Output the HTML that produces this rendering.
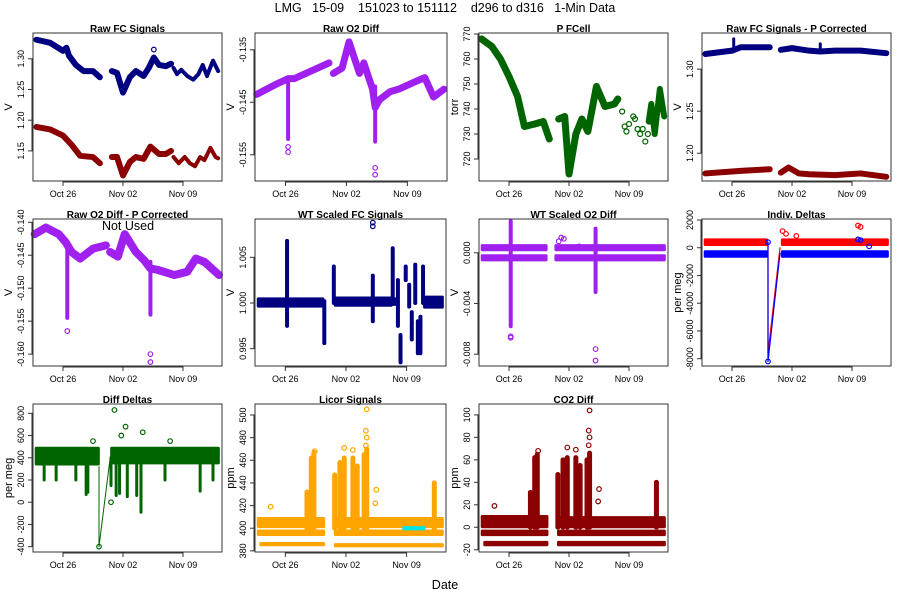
<!DOCTYPE html>
<html><head><meta charset="utf-8"><style>
html,body{margin:0;padding:0;background:#fff;}
svg{display:block;font-family:"Liberation Sans",sans-serif;}
</style></head><body>
<svg id="c" width="900" height="600" viewBox="0 0 900 600">
<text x="445" y="12" text-anchor="middle" font-size="12.5" xml:space="preserve">LMG   15-09    151023 to 151112    d296 to d316   1-Min Data</text>
<text x="445" y="589" text-anchor="middle" font-size="12.5">Date</text>
</svg>
<script>
// x tick data (days since Oct 26)
const xTickDays = [0, 7, 14];
const xTickLabels = ["Oct 26", "Nov 02", "Nov 09"];

// Panel 1: Raw FC Signals
const rawFcBlue1 = [[-3.1,1.331],[-1.5,1.326],[0,1.313],[0.4,1.318],[0.7,1.305],[1.5,1.29],[2.4,1.28],[3.5,1.28],[3.9,1.275],[4.3,1.27]];
const rawFcBlue2 = [[5.7,1.28],[6.3,1.277],[7.0,1.245],[7.8,1.27],[8.5,1.28],[9.4,1.272],[10.0,1.285],[10.6,1.302],[11.2,1.29],[12.0,1.288],[12.6,1.292]];
const rawFcBlue3 = [[12.9,1.285],[13.3,1.275],[13.8,1.282],[14.5,1.272],[15.2,1.266],[15.8,1.275],[16.3,1.29],[16.8,1.272],[17.5,1.297],[18.1,1.28]];
const rawFcRed1 = [[-3.1,1.189],[-1.5,1.185],[0,1.175],[1,1.16],[2,1.142],[3.5,1.14],[4.3,1.13]];
const rawFcRed2 = [[5.7,1.14],[6.3,1.14],[7.0,1.11],[7.8,1.132],[8.5,1.14],[9.4,1.137],[10.2,1.157],[11.2,1.145],[12.0,1.145],[12.6,1.15]];
const rawFcRed3 = [[12.9,1.14],[13.5,1.13],[14.2,1.14],[14.8,1.13],[15.4,1.125],[16.0,1.14],[16.5,1.135],[17.2,1.155],[17.8,1.14],[18.1,1.138]];
const rawFcOutliers = [[10.6,1.315]];

// Panel 2: Raw O2 Diff
const rawO2Seg1 = [[-3.3,-0.1435],[-1,-0.1415],[0.3,-0.1405],[1,-0.1405],[3,-0.139],[5,-0.1375]];
const rawO2Seg2 = [[5.5,-0.1395],[6.5,-0.1385],[7.3,-0.1335],[8.5,-0.1395],[9,-0.1375],[10,-0.1425],[10.3,-0.146],[10.8,-0.1445],[12,-0.143],[13,-0.1425],[15,-0.141],[16,-0.1403],[17,-0.144],[18.2,-0.1425]];
const rawO2Spikes = [[0.3,-0.152,-0.141],[10.3,-0.1525,-0.142]];
const rawO2Outliers = [[0.3,-0.1545],[0.3,-0.1535],[10.3,-0.1575],[10.3,-0.1588]];

// Panel 3: P FCell
const pCellSeg1 = [[-3.2,768],[-2,765],[-1,760],[0,753],[1,745],[1.8,733],[3,734],[4,735],[4.7,728]];
const pCellSeg2 = [[5.8,736],[6.5,737],[7.0,714],[7.8,730],[8.5,736],[9.2,731],[10.2,749],[11.2,741],[12.3,742],[12.7,744]];
const pCellSeg3 = [[16.3,735],[16.6,742],[17.0,730],[17.6,748],[18.1,737]];
const pCellPoints = [[13.2,739],[13.5,733],[13.7,731],[14,734],[14.5,737],[14.7,736],[15,732],[15.3,730],[15.6,732],[15.9,727],[16.2,730],[16.4,735]];

// Panel 4: Raw FC Signals - P Corrected
const pcBlue1 = [[-3.1,1.318],[0,1.322],[1,1.326],[4.4,1.326]];
const pcBlue2 = [[5.7,1.323],[7,1.325],[9,1.322],[10.3,1.321],[12,1.322],[15,1.322],[18,1.319]];
const pcBlueSpikes = [[0.2,1.322,1.336],[10.3,1.32,1.33]];
const pcRed1 = [[-3.1,1.176],[1,1.179],[4.4,1.181]];
const pcRed2 = [[5.7,1.177],[6.6,1.183],[7.8,1.176],[9,1.175],[12,1.174],[15,1.176],[18,1.172]];

// Panel 5: Raw O2 Diff - P Corrected
const o2pcSeg1 = [[-3.3,-0.1418],[-2,-0.1408],[-0.5,-0.1418],[0.3,-0.143],[1,-0.1445],[2,-0.1455],[3.5,-0.1440],[5,-0.1435]];
const o2pcSeg2 = [[5.5,-0.1445],[6.4,-0.1452],[7.2,-0.1418],[8.5,-0.1445],[9.5,-0.1458],[10.2,-0.147],[11,-0.1472],[13,-0.148],[14.5,-0.1475],[15.5,-0.1455],[16.5,-0.146],[18.2,-0.148]];
const o2pcSpikes = [[0.5,-0.1545,-0.1440],[10.2,-0.1540,-0.1460]];
const o2pcOutliers = [[0.5,-0.1565],[10.2,-0.1600],[10.2,-0.1612]];

// Panel 6: WT Scaled FC Signals
const wtFcBands = [[-3.3,4.5,0.9996,1.0005],[5.6,12.4,0.9997,1.0006],[12.4,13.0,0.9998,1.0005],[15.9,18.3,0.9995,1.0007]];
const wtFcSpikes = [[0.2,0.9975,1.0068],[4.5,0.9956,1.0002],[5.6,1.0,1.004],[10.1,0.998,1.003],[12.4,0.9999,1.006],[13.0,0.9975,1.0025],[13.3,0.9935,0.9965],[13.9,1.0025,1.004],[14.3,0.9996,1.002],[14.6,0.996,0.999],[15.0,1.0,1.0042],[15.3,0.9945,0.998],[15.6,0.9945,0.9985],[15.9,1.0,1.004]];
const wtFcOutliers = [[10.1,1.0088],[10.1,1.0084]];

// Panel 7: WT Scaled O2 Diff
const wtO2Bands = [[-3.3,4.5,0.0002,0.0006],[-3.3,4.5,-0.0006,-0.0002],[5.3,18.3,0.0002,0.0006],[5.3,18.3,-0.0006,-0.0002]];
const wtO2Spikes = [[0.2,-0.0058,0.0025],[10.1,-0.0031,0.0019]];
const wtO2Outliers = [[0.2,-0.0066],[0.2,-0.0067],[10.1,-0.0076],[10.1,-0.0085],[5.8,0.0009],[6.1,0.0012],[6.4,0.0011],[8.2,0.0005]];

// Panel 8: Indiv. Deltas
const indRedBands = [[-3.3,4.2,200,600],[5.7,18.3,200,600]];
const indBlueBands = [[-3.3,4.2,-650,-250],[5.7,18.3,-650,-250]];
const indRedDrop = [[4.2,400],[4.2,-7600],[5.6,0]];
const indBlueDrop = [[4.2,400],[4.2,-8200],[5.6,-400]];
const indRedOutliers = [[5.9,1200],[6.3,1000],[14.7,1600],[15,1500],[7.5,850]];
const indBlueOutliers = [[14.7,600],[15,550],[4.2,400],[4.2,-8200],[16,100]];

// Panel 9: Diff Deltas
const diffBands = [[-3.3,4.3,340,490],[5.5,18.3,350,490]];
const diffSpikes = [[2.7,70,400],[2.9,90,400],[5.6,150,400],[6.2,60,400],[6.6,80,400],[7.5,50,400],[8.6,60,400],[9.1,-90,400],[1.5,200,400],[-2.2,200,400],[-0.8,200,400],[11.9,200,400],[16.0,100,400],[17.5,200,400]];
const diffDrop = [[4.2,320],[4.2,-400],[5.5,400]];
const diffOutliers = [[6.0,830],[7.3,680],[9.3,630],[6.8,600],[4.2,-400],[5.6,0],[3.5,550],[12.5,550]];

// Panel 10: Licor Signals
const licorBands = [[-3.3,4.6,401,409],[5.6,18.3,401,409],[-3.3,4.6,394,398],[5.6,18.3,394,398]];
const licorLow = [[-3.0,4.6,385,387],[5.6,18.3,384,386]];
const licorSpikes = [[2.5,400,432],[3.0,400,462],[3.3,400,467],[5.7,400,447],[6.3,400,458],[6.8,400,462],[7.8,400,462],[8.3,400,455],[9.1,400,465],[9.4,400,470],[17.2,400,440]];
const licorOutliers = [[9.4,505],[9.3,486],[9.4,480],[9.3,473],[6.8,471],[7.8,469],[3.4,468],[10.5,434],[10.4,422],[-1.7,419]];
const licorCyan = [[13.5,16.2,399,401]];

// Panel 11: CO2 Diff
const co2Bands = [[-3.3,4.6,0,10],[5.6,18.3,0,9],[-3.3,4.6,-7,-3],[5.6,18.3,-7,-3]];
const co2Low = [[-3.0,4.6,-16,-13],[5.6,18.3,-16,-13]];
const co2Spikes = [[2.5,0,31],[3.0,0,62],[3.3,0,65],[5.7,0,47],[6.3,0,60],[6.8,0,62],[7.8,0,62],[8.3,0,55],[9.1,0,60],[9.4,0,66],[17.2,0,40]];
const co2Outliers = [[9.4,104],[9.3,86],[9.4,80],[9.3,73],[6.8,71],[7.8,69],[3.4,68],[10.5,34],[10.4,23],[-1.7,19]];

const NS = "http://www.w3.org/2000/svg";
const svg = document.getElementById('c');
function el(tag, attrs, parent) {
  const e = document.createElementNS(NS, tag);
  for (const k in attrs) e.setAttribute(k, attrs[k]);
  (parent || svg).appendChild(e);
  return e;
}

function panel(cfg) {
  const g = el('g', {});
  
  
  const xs = d => cfg.l + (d + 3.5) * (cfg.r - cfg.l) / 22.05;
  const ys = v => cfg.b - (v - cfg.y0) * (cfg.b - cfg.t) / (cfg.y1 - cfg.y0);
  const plot = el('g', {}, g);
  
  
  const frame = el('rect', {x: cfg.l, y: cfg.t, width: cfg.r - cfg.l, height: cfg.b - cfg.t, fill: 'none', stroke: '#333', 'stroke-width': 1}, g);
  
  
  const t = el('text', {x: (cfg.l + cfg.r) / 2, y: cfg.t - 1, 'text-anchor': 'middle', 'font-size': 10, 'font-weight': 'bold'}, g);
  t.textContent = cfg.title;
  
  
  const xa = el('g', {}, g);
  
  
  el('line', {x1: xs(xTickDays[0]), x2: xs(xTickDays[xTickDays.length - 1]), y1: cfg.b + 1, y2: cfg.b + 1, stroke: '#333'}, xa);
  xTickDays.forEach((d, i) => {
    el('line', {x1: xs(d), x2: xs(d), y1: cfg.b, y2: cfg.b + 5, stroke: '#333'}, xa);
    const lt = el('text', {x: xs(d), y: cfg.b + 16, 'text-anchor': 'middle', 'font-size': 9}, xa);
    lt.textContent = xTickLabels[i];
    
    
  });
  const ya = el('g', {}, g);
  
  
  el('line', {x1: cfg.l - 1, x2: cfg.l - 1, y1: ys(cfg.yt[0]), y2: ys(cfg.yt[cfg.yt.length - 1]), stroke: '#333'}, ya);
  cfg.yt.forEach(v => {
    el('line', {x1: cfg.l - 5, x2: cfg.l, y1: ys(v), y2: ys(v), stroke: '#333'}, ya);
    const lt = el('text', {x: cfg.l - 9, y: ys(v), 'text-anchor': 'middle', 'font-size': 9, transform: `rotate(-90 ${cfg.l - 9} ${ys(v)})`}, ya);
    lt.textContent = v.toFixed(cfg.fmt);
    
    
  });
  const yl = el('text', {x: cfg.l - 21, y: (cfg.t + cfg.b) / 2, 'text-anchor': 'middle', 'font-size': 11, transform: `rotate(-90 ${cfg.l - 21} ${(cfg.t + cfg.b) / 2})`}, g);
  yl.textContent = cfg.ylab;
  
  

  return {
    line(pts, color, w, nm) {
      const p = el('polyline', {points: pts.map(q => xs(q[0]) + ',' + ys(q[1])).join(' '), fill: 'none', stroke: color, 'stroke-width': w, 'stroke-linejoin': 'round', 'stroke-linecap': 'round'}, plot);
      
      
    },
    pts(arr, color, r, nm) {
      arr.forEach(q => {
        const c = el('circle', {cx: xs(q[0]), cy: ys(q[1]), r: r || 2.3, fill: 'none', stroke: color, 'stroke-width': 1.2}, plot);
        
        
      });
    },
    bands(arr, color, nm) {
      arr.forEach(q => {
        const y1 = ys(q[3]), y2 = ys(q[2]);
        const r = el('rect', {x: xs(q[0]), y: y1 - 1, width: xs(q[1]) - xs(q[0]), height: y2 - y1 + 2, fill: color, rx: 1.5}, plot);
        
        
      });
    },
    spikes(arr, color, w, nm) {
      arr.forEach(q => {
        const l = el('line', {x1: xs(q[0]), x2: xs(q[0]), y1: ys(q[1]), y2: ys(q[2]), stroke: color, 'stroke-width': w || 4, 'stroke-linecap': 'round'}, plot);
        
        
      });
    }
  };
}

const navy = '#000080', dred = '#8B0000', purple = '#A020F0', green = '#006400', orange = '#FFA500';
const r1 = {t: 33, b: 181}, r2 = {t: 219, b: 366}, r3 = {t: 404, b: 552};

let p = panel({name: 'panel-raw-fc-signals', title: 'Raw FC Signals', l: 33, r: 222, ...r1, y0: 1.101, y1: 1.342, yt: [1.15, 1.20, 1.25, 1.30], fmt: 2, ylab: 'V'});
[rawFcBlue1, rawFcBlue2].forEach(s => p.line(s, navy, 6, 'series-fc-a'));
p.line(rawFcBlue3, navy, 4, 'series-fc-a');
[rawFcRed1, rawFcRed2].forEach(s => p.line(s, dred, 6, 'series-fc-b'));
p.line(rawFcRed3, dred, 4, 'series-fc-b');
p.pts(rawFcOutliers, navy);

p = panel({name: 'panel-raw-o2-diff', title: 'Raw O2 Diff', l: 255, r: 447, ...r1, y0: -0.160, y1: -0.1318, yt: [-0.155, -0.145, -0.135], fmt: 3, ylab: 'V'});
p.line(rawO2Seg1, purple, 7); p.line(rawO2Seg2, purple, 7);
p.spikes(rawO2Spikes, purple, 4); p.pts(rawO2Outliers, purple);

p = panel({name: 'panel-p-fcell', title: 'P FCell', l: 479, r: 668, ...r1, y0: 711.2, y1: 770.4, yt: [720, 730, 740, 750, 760, 770], fmt: 0, ylab: 'torr'});
p.line(pCellSeg1, green, 7); p.line(pCellSeg2, green, 7); p.line(pCellSeg3, green, 6);
p.pts(pCellPoints, green, 2.5);

p = panel({name: 'panel-fc-p-corrected', title: 'Raw FC Signals - P Corrected', l: 702, r: 891, ...r1, y0: 1.167, y1: 1.343, yt: [1.20, 1.25, 1.30], fmt: 2, ylab: 'V'});
p.line(pcBlue1, navy, 6); p.line(pcBlue2, navy, 6); p.spikes(pcBlueSpikes, navy, 3);
p.line(pcRed1, dred, 6); p.line(pcRed2, dred, 6);

p = panel({name: 'panel-o2-p-corrected', title: 'Raw O2 Diff - P Corrected', l: 33, r: 222, ...r2, y0: -0.1618, y1: -0.1395, yt: [-0.160, -0.155, -0.150, -0.145, -0.140], fmt: 3, ylab: 'V'});
p.line(o2pcSeg1, purple, 8); p.line(o2pcSeg2, purple, 8);
p.spikes(o2pcSpikes, purple, 4); p.pts(o2pcOutliers, purple);

p = panel({name: 'panel-wt-scaled-fc', title: 'WT Scaled FC Signals', l: 255, r: 446, ...r2, y0: 0.9931, y1: 1.0092, yt: [0.995, 1.000, 1.005], fmt: 3, ylab: 'V'});
p.bands(wtFcBands, navy); p.spikes(wtFcSpikes, navy, 4); p.pts(wtFcOutliers, navy);

p = panel({name: 'panel-wt-scaled-o2', title: 'WT Scaled O2 Diff', l: 479, r: 668, ...r2, y0: -0.00893, y1: 0.00266, yt: [-0.008, -0.004, 0.000], fmt: 3, ylab: 'V'});
p.bands(wtO2Bands, purple); p.spikes(wtO2Spikes, purple, 4); p.pts(wtO2Outliers, purple);

p = panel({name: 'panel-indiv-deltas', title: 'Indiv. Deltas', l: 702, r: 891, ...r2, y0: -8526, y1: 2072, yt: [-8000, -6000, -4000, -2000, 0, 2000], fmt: 0, ylab: 'per meg'});
p.bands(indRedBands, '#FF0000', 'red-series'); p.bands(indBlueBands, '#0000FF', 'blue-series');
p.line(indRedDrop, '#FF0000', 1.2); p.line(indBlueDrop, '#0000FF', 1.2);
p.pts(indRedOutliers, '#FF0000'); p.pts(indBlueOutliers, '#0000FF');

p = panel({name: 'panel-diff-deltas', title: 'Diff Deltas', l: 33, r: 222, ...r3, y0: -448, y1: 884, yt: [-400, -200, 0, 200, 400, 600, 800], fmt: 0, ylab: 'per meg'});
p.bands(diffBands, green); p.spikes(diffSpikes, green, 3); p.line(diffDrop, green, 1); p.pts(diffOutliers, green);

p = panel({name: 'panel-licor-signals', title: 'Licor Signals', l: 255, r: 446, ...r3, y0: 379, y1: 509.7, yt: [380, 400, 420, 440, 460, 480, 500], fmt: 0, ylab: 'ppm'});
p.bands(licorBands, orange); p.bands(licorLow, orange); p.spikes(licorSpikes, orange, 5);
p.bands(licorCyan, '#00E5E5', 'cyan-series'); p.pts(licorOutliers, orange);

p = panel({name: 'panel-co2-diff', title: 'CO2 Diff', l: 479, r: 668, ...r3, y0: -22, y1: 109.7, yt: [-20, 0, 20, 40, 60, 80, 100], fmt: 0, ylab: 'ppm'});
p.bands(co2Bands, dred); p.bands(co2Low, dred); p.spikes(co2Spikes, dred, 5); p.pts(co2Outliers, dred);

const nu = el('text', {x: 128, y: 230, 'text-anchor': 'middle', 'font-size': 12.5});
nu.textContent = 'Not Used';


</script>
</body></html>
